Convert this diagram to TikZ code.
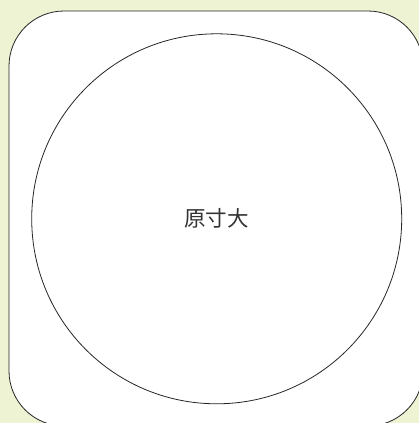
\documentclass[tikz,border=0pt]{standalone}
\usepackage{fontspec}
\newfontfamily\cjk{Noto Sans CJK JP}
\usetikzlibrary{positioning}
\definecolor{bgGreen}{RGB}{237,243,211}
\tikzset{
    frameBox/.style={
        ,   draw=black!85
        ,   fill=white
        ,   rounded corners=55pt
        ,   line width=0.8pt
    },
    lensCircle/.style={
        ,   circle
        ,   draw=black!85
        ,   line width=0.8pt
        ,   minimum size=370pt
        ,   inner sep=0pt
    },
    sizeLabel/.style={
        ,   font={\cjk\fontsize{21.5pt}{23pt}\selectfont}
        ,   text=black!80
    }
}
\begin{document}
\begin{tikzpicture}[x=1pt, y=-1pt]
\fill[bgGreen] (0,0) rectangle (419,423);
\useasboundingbox (0,0) rectangle (419,423);
\clip (0,0) rectangle (419,423); % frame runs off to the right and bottom
\draw[frameBox] (9,11) rectangle (423,426);
\node[lensCircle] (lens) at (216.7,218.8) {};
\node[sizeLabel] (label) at (lens.center) {原寸大};
\end{tikzpicture}
\end{document}
